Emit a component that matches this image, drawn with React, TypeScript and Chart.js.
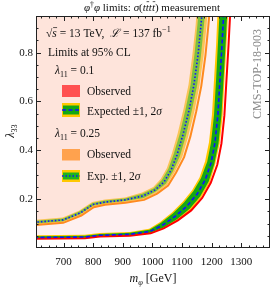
import React, { useEffect, useRef } from 'react';
import { Chart, registerables } from 'chart.js';
Chart.register(...registerables);

type P = [number, number];

// ---------- data: lambda11 = 0.1 (outer contour) ----------
const exp01: P[] = [[600,0.043],[772,0.045],[823,0.052],[924,0.056],[992,0.068],[1032,0.092],[1076,0.129],[1117,0.172],[1151,0.221],[1178,0.278],[1198,0.348],[1211,0.430],[1221,0.545],[1228,0.688],[1235,0.831],[1242,0.995]];
const exp01Up2: P[] = [[600,0.052],[772,0.054],[822,0.061],[924,0.066],[989,0.079],[1026,0.106],[1066,0.145],[1103,0.190],[1134,0.236],[1159,0.289],[1178,0.355],[1191,0.433],[1201,0.546],[1208,0.689],[1215,0.832],[1221,0.996]];
const exp01Up1: P[] = [[600,0.048],[772,0.050],[823,0.057],[924,0.062],[990,0.075],[1028,0.102],[1069,0.141],[1106,0.185],[1138,0.232],[1164,0.286],[1185,0.353],[1198,0.432],[1208,0.545],[1215,0.689],[1221,0.832],[1228,0.996]];
const exp01Dn1: P[] = [[600,0.040],[772,0.042],[823,0.049],[924,0.052],[993,0.062],[1037,0.083],[1083,0.118],[1126,0.161],[1161,0.211],[1190,0.272],[1209,0.344],[1223,0.428],[1233,0.544],[1240,0.687],[1247,0.831],[1254,0.995]];
const exp01Dn2: P[] = [[600,0.037],[772,0.039],[823,0.046],[924,0.049],[994,0.059],[1038,0.080],[1086,0.113],[1130,0.156],[1165,0.208],[1194,0.269],[1212,0.343],[1227,0.428],[1237,0.543],[1243,0.687],[1250,0.830],[1257,0.994]];
const obs01: P[] = [[600,0.038],[772,0.040],[823,0.047],[924,0.050],[994,0.060],[1038,0.080],[1086,0.113],[1131,0.154],[1168,0.205],[1197,0.267],[1219,0.341],[1233,0.427],[1243,0.543],[1250,0.687],[1257,0.830],[1264,0.994]];

// ---------- data: lambda11 = 0.25 (inner contour) ----------
const exp25: P[] = [[600,0.105],[698,0.115],[756,0.143],[799,0.178],[840,0.188],[908,0.197],[968,0.213],[1009,0.238],[1039,0.270],[1063,0.319],[1083,0.381],[1103,0.463],[1124,0.565],[1140,0.667],[1154,0.790],[1164,0.913],[1171,1.016]];
const exp25Up2: P[] = [[600,0.115],[697,0.125],[752,0.153],[797,0.188],[840,0.199],[907,0.207],[965,0.227],[1003,0.250],[1028,0.283],[1049,0.328],[1066,0.388],[1085,0.468],[1105,0.569],[1122,0.670],[1135,0.792],[1146,0.914],[1152,1.017]];
const exp25Up1: P[] = [[600,0.111],[698,0.121],[753,0.149],[798,0.184],[840,0.195],[907,0.203],[966,0.222],[1005,0.245],[1032,0.278],[1054,0.325],[1072,0.385],[1092,0.466],[1112,0.568],[1129,0.670],[1142,0.792],[1152,0.914],[1159,1.016]];
const exp25Dn1: P[] = [[600,0.100],[699,0.110],[757,0.139],[801,0.174],[840,0.183],[908,0.192],[970,0.205],[1012,0.231],[1046,0.264],[1070,0.315],[1093,0.377],[1113,0.460],[1133,0.563],[1151,0.666],[1164,0.790],[1174,0.912],[1181,1.015]];
const exp25Dn2: P[] = [[600,0.096],[699,0.106],[759,0.135],[802,0.170],[840,0.179],[908,0.188],[971,0.200],[1014,0.226],[1050,0.259],[1076,0.312],[1101,0.374],[1121,0.458],[1142,0.561],[1159,0.665],[1173,0.789],[1183,0.912],[1189,1.014]];
const obs25: P[] = [[600,0.094],[699,0.103],[760,0.133],[802,0.167],[840,0.177],[909,0.185],[972,0.197],[1016,0.223],[1053,0.256],[1080,0.309],[1107,0.372],[1128,0.456],[1148,0.560],[1165,0.663],[1179,0.788],[1189,0.911],[1196,1.014]];

// ---------- axes ----------
const X_MIN = 607, X_MAX = 1397, X_STEP = 100, X_MINOR = 25;
const Y_MIN = 0, Y_MAX = 0.95, Y_STEP = 0.2, Y_MINOR = 0.05;
const X_TICKS = [700, 800, 900, 1000, 1100, 1200, 1300];
const Y_TICKS = [0.2, 0.4, 0.6, 0.8];

const FONT = '"Liberation Serif", "DejaVu Serif", serif';
const LEG = 11.5;

const C = {
  regionOuter: '#fef0f0',
  regionInner: '#fee4db',
  yellow01: '#ffc800', green01: '#14a814', red: '#ff0000', blue: '#1010ff',
  yellow25: '#f9c556', green25: '#7cc13e', orange: '#ff8a1f',
};

const pts = (a: P[]) => a.map(([x, y]) => ({ x, y }));
const band = (hi: P[], lo: P[]): P[] => [...hi, ...lo.slice().reverse()];
const region = (edge: P[]): P[] => [...edge, [edge[edge.length - 1][0], 1.3], [500, 1.3], [500, edge[0][1]]];

const fillDs = (poly: P[], color: string) => ({
  data: pts(poly), fill: 'shape', backgroundColor: color, borderColor: 'rgba(0,0,0,0)',
  borderWidth: 0, pointRadius: 0, clip: 0,
});
const lineDs = (a: P[], color: string, w: number, dash: number[] = []) => ({
  data: pts(a), fill: false, borderColor: color, borderWidth: w, borderDash: dash,
  pointRadius: 0, clip: 0,
});

type Run = { t: string; it?: boolean; sub?: boolean; sup?: boolean; bar?: number };
const runFont = (r: Run, size: number) =>
  `${r.it ? 'italic ' : ''}${r.sub || r.sup ? size * 0.7 : size}px ${FONT}`;
function drawRich(ctx: CanvasRenderingContext2D, runs: Run[], x: number, y: number, size: number, align: 'left' | 'center' = 'left') {
  let w = 0;
  for (const r of runs) { ctx.font = runFont(r, size); w += ctx.measureText(r.t).width; }
  let cx = align === 'center' ? x - w / 2 : x;
  ctx.textAlign = 'left';
  ctx.textBaseline = 'alphabetic';
  for (const r of runs) {
    ctx.font = runFont(r, size);
    const rw = ctx.measureText(r.t).width;
    const dy = r.sub ? size * 0.25 : r.sup ? -size * 0.4 : 0;
    ctx.fillText(r.t, cx, y + dy);
    if (r.bar) {
      ctx.save();
      ctx.lineWidth = 0.7;
      ctx.strokeStyle = ctx.fillStyle as string;
      ctx.beginPath();
      ctx.moveTo(cx + 0.8, y - size * r.bar);
      ctx.lineTo(cx + rw + 0.3, y - size * r.bar);
      ctx.stroke();
      ctx.restore();
    }
    cx += rw;
  }
}

const titleRuns: Run[] = [
  { t: 'φ', it: true }, { t: '†', sup: true }, { t: 'φ', it: true }, { t: ' limits: ' },
  { t: 'σ', it: true }, { t: '(' }, { t: 't', it: true }, { t: 't', it: true, bar: 0.85 },
  { t: 't', it: true }, { t: 't', it: true, bar: 0.85 }, { t: ')' }, { t: ' measurement' },
];
const line1: Run[] = [{ t: '√' }, { t: 's', it: true, bar: 0.82 }, { t: ' = 13 TeV,  ' }, { t: 'ℒ', it: true }, { t: ' = 137 fb' }, { t: '−1', sup: true }];
const line2: Run[] = [{ t: 'Limits at 95% CL' }];
const lam01: Run[] = [{ t: 'λ', it: true }, { t: '11', sub: true }, { t: ' = 0.1' }];
const lam25: Run[] = [{ t: 'λ', it: true }, { t: '11', sub: true }, { t: ' = 0.25' }];
const expTxt: Run[] = [{ t: 'Expected ±1, 2' }, { t: 'σ', it: true }];
const expShort: Run[] = [{ t: 'Exp. ±1, 2' }, { t: 'σ', it: true }];
const yTitle: Run[] = [{ t: 'λ', it: true }, { t: '33', sub: true }];
const xTitle: Run[] = [{ t: 'm', it: true }, { t: 'φ', it: true, sub: true }, { t: ' [GeV]' }];

const decor = {
  id: 'decor',
  afterDraw(chart: any) {
    const ctx: CanvasRenderingContext2D = chart.ctx;
    const a = chart.chartArea;
    const xs = chart.scales.x;
    const ys = chart.scales.y;
    ctx.save();

    // legend boxes
    const bx = 62, bw = 18;
    ctx.fillStyle = '#ff5050'; ctx.fillRect(bx, 85, bw, 12);
    ctx.fillStyle = C.yellow01; ctx.fillRect(bx, 103, bw, 14);
    ctx.fillStyle = C.green01; ctx.fillRect(bx + 1, 105.5, bw - 2, 9);
    ctx.strokeStyle = C.blue; ctx.lineWidth = 1.6; ctx.setLineDash([4, 2.5]);
    ctx.beginPath(); ctx.moveTo(bx, 110); ctx.lineTo(bx + bw, 110); ctx.stroke();
    ctx.fillStyle = '#ffa24e'; ctx.fillRect(bx, 149, bw, 11.5);
    ctx.fillStyle = C.yellow01; ctx.fillRect(bx, 170, bw, 12);
    ctx.fillStyle = '#1eb41e'; ctx.fillRect(bx + 1, 172.5, bw - 2, 7);
    ctx.setLineDash([1.5, 2]);
    ctx.beginPath(); ctx.moveTo(bx, 176); ctx.lineTo(bx + bw, 176); ctx.stroke();
    ctx.setLineDash([]);

    // legend texts
    ctx.fillStyle = '#111';
    drawRich(ctx, line1, 46, 37, LEG);
    drawRich(ctx, line2, 48, 55.5, LEG);
    drawRich(ctx, lam01, 55, 74, LEG);
    drawRich(ctx, [{ t: 'Observed' }], 87, 94.5, LEG);
    drawRich(ctx, expTxt, 87, 114.5, LEG);
    drawRich(ctx, lam25, 55, 137, LEG);
    drawRich(ctx, [{ t: 'Observed' }], 87, 158, LEG);
    drawRich(ctx, expShort, 87, 179.5, LEG);

    // title & axis titles
    drawRich(ctx, titleRuns, 152, 11, 11, 'center');
    drawRich(ctx, xTitle, 153, 282, 12, 'center');
    ctx.save();
    ctx.translate(14, 131); ctx.rotate(-Math.PI / 2);
    drawRich(ctx, yTitle, 0, 0, 12, 'center');
    ctx.restore();

    // CMS label
    ctx.save();
    ctx.translate(261, 74); ctx.rotate(-Math.PI / 2);
    ctx.fillStyle = '#8a8a8a'; ctx.font = `12px ${FONT}`;
    ctx.textAlign = 'center'; ctx.textBaseline = 'alphabetic';
    ctx.fillText('CMS-TOP-18-003', 0, 0);
    ctx.restore();

    // frame
    ctx.strokeStyle = '#222'; ctx.lineWidth = 1;
    ctx.strokeRect(a.left + 0.5, a.top + 0.5, a.right - a.left - 1, a.bottom - a.top - 1);

    // inward ticks on all sides
    ctx.beginPath();
    for (let v = Math.ceil(X_MIN / X_MINOR) * X_MINOR; v <= X_MAX; v += X_MINOR) {
      const len = v % X_STEP === 0 ? 5 : 2.5;
      const px = Math.round(xs.getPixelForValue(v)) + 0.5;
      ctx.moveTo(px, a.bottom); ctx.lineTo(px, a.bottom - len);
      ctx.moveTo(px, a.top); ctx.lineTo(px, a.top + len);
    }
    const nY = Math.round((Y_MAX - Y_MIN) / Y_MINOR);
    for (let i = 1; i <= nY; i++) {
      const v = Y_MIN + i * Y_MINOR;
      const major = Math.abs(v / Y_STEP - Math.round(v / Y_STEP)) < 1e-6;
      const len = major ? 5 : 2.5;
      const py = Math.round(ys.getPixelForValue(v)) + 0.5;
      ctx.moveTo(a.left, py); ctx.lineTo(a.left + len, py);
      ctx.moveTo(a.right, py); ctx.lineTo(a.right - len, py);
    }
    ctx.stroke();
    ctx.restore();
  },
};

export default function App() {
  const ref = useRef<HTMLCanvasElement>(null);
  useEffect(() => {
    document.body.style.margin = '0';
    const canvas = ref.current!;
    const datasets: any[] = [
      fillDs(region(obs01), C.regionOuter),
      fillDs(region(obs25), C.regionInner),
      fillDs(band(exp25Up2, exp25Dn2), C.yellow25),
      fillDs(band(exp25Up1, exp25Dn1), C.green25),
      lineDs(obs25, C.orange, 2),
      lineDs(exp25, C.blue, 1.6, [1.5, 2]),
      fillDs(band(exp01Up2, exp01Dn2), C.yellow01),
      fillDs(band(exp01Up1, exp01Dn1), C.green01),
      lineDs(obs01, C.red, 2),
      lineDs(exp01, C.blue, 1.6, [4, 2.5]),
    ];
    datasets.forEach((d, i) => { d.order = -i; });
    const chart = new Chart(canvas, {
      type: 'line',
      data: { datasets },
      options: {
        responsive: false,
        maintainAspectRatio: false,
        animation: false,
        events: [],
        layout: { padding: { top: 16, right: 1, left: 0, bottom: 0 } },
        plugins: { legend: { display: false }, tooltip: { enabled: false }, title: { display: false } },
        elements: { point: { radius: 0 }, line: { tension: 0 } },
        scales: {
          x: {
            type: 'linear', min: X_MIN, max: X_MAX,
            grid: { display: false, drawTicks: false }, border: { display: false },
            afterBuildTicks: (s: any) => { s.ticks = X_TICKS.map((value) => ({ value })); },
            ticks: {
              autoSkip: false, maxRotation: 0, minRotation: 0,
              padding: 8, color: '#111', font: { family: FONT, size: 11 },
              callback: (v: any) => String(v),
            },
            afterFit: (s: any) => { s.height = 41; },
          },
          y: {
            type: 'linear', min: Y_MIN, max: Y_MAX,
            grid: { display: false, drawTicks: false }, border: { display: false },
            afterBuildTicks: (s: any) => { s.ticks = Y_TICKS.map((value) => ({ value })); },
            ticks: {
              autoSkip: false, padding: 3,
              color: '#111', font: { family: FONT, size: 11 },
              callback: (v: any) => Number(v).toFixed(1),
            },
            afterFit: (s: any) => { s.width = 36; },
          },
        },
      } as any,
      plugins: [decor],
    });
    return () => chart.destroy();
  }, []);
  return <canvas ref={ref} width={271} height={289} style={{ display: 'block' }} />;
}
